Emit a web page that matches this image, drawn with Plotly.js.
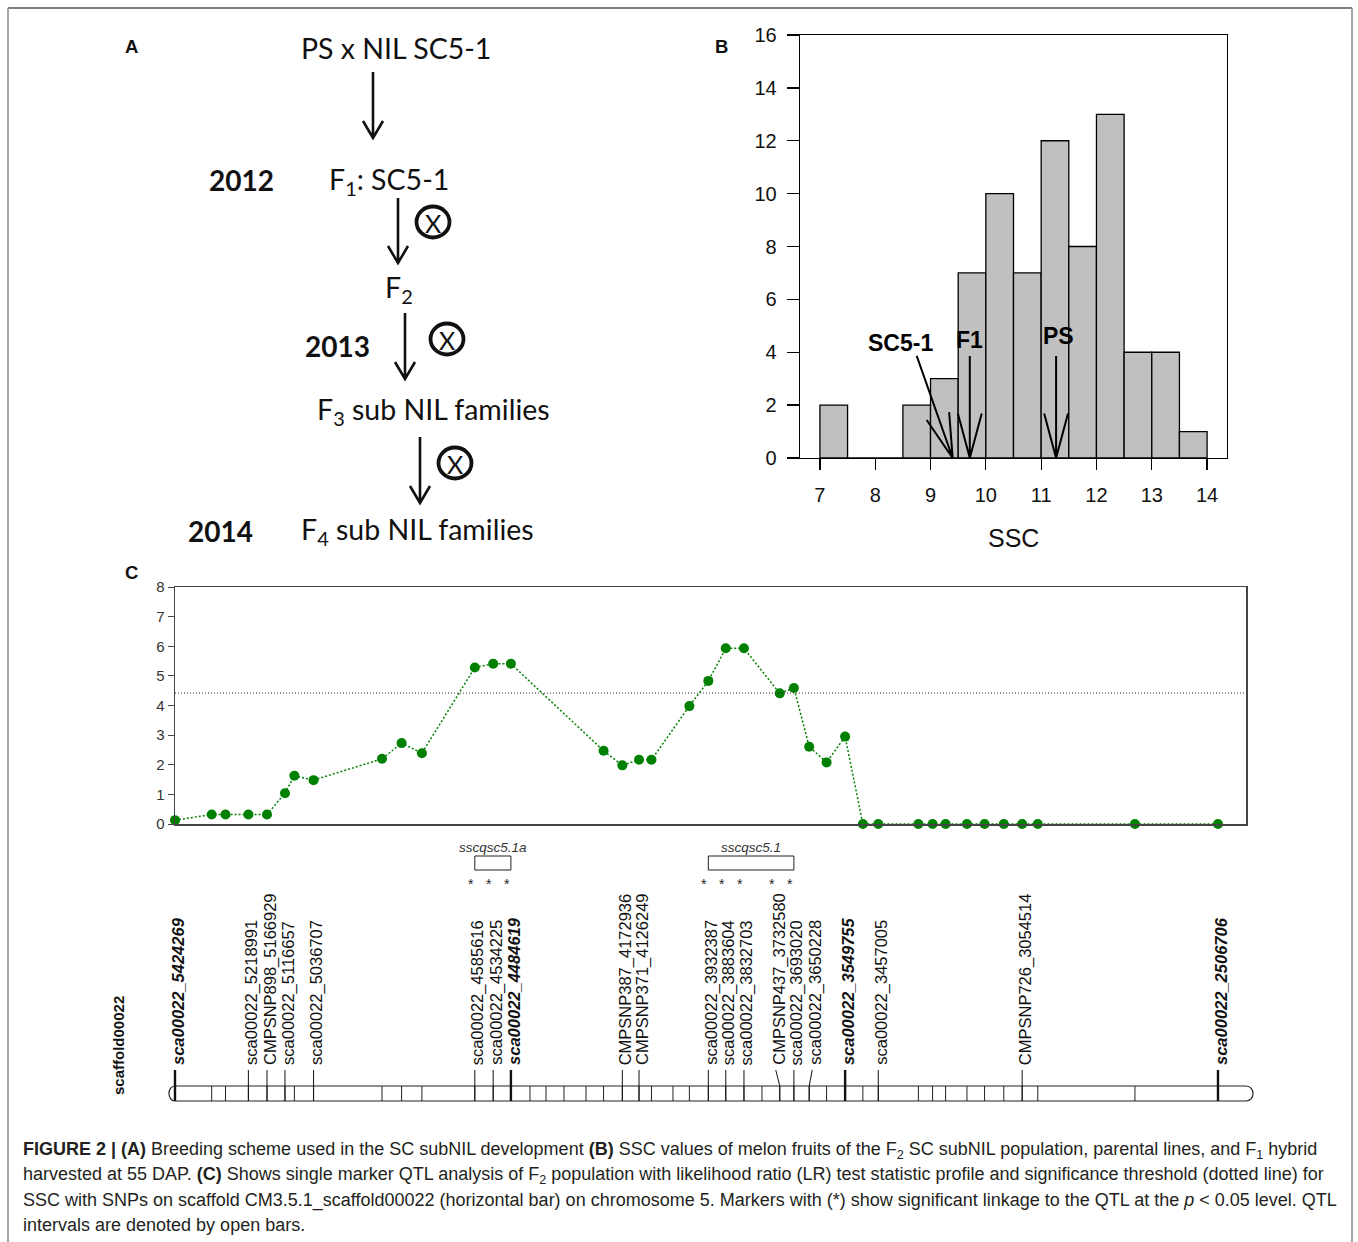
<!DOCTYPE html>
<html><head><meta charset="utf-8">
<script src="https://cdn.plot.ly/plotly-3.0.1.min.js"></script>
<style>html,body{margin:0;padding:0;background:#fff;} #chart{width:1358px;height:1242px;}</style>
</head><body><div id="chart"></div>
<script>
// ================= DATA =================
// Panel A : breeding scheme
const schemeSteps = ['PS x NIL SC5-1', 'F<sub>1</sub>: SC5-1', 'F<sub>2</sub>', 'F<sub>3</sub> sub NIL families', 'F<sub>4</sub> sub NIL families'];
const schemeYears = ['2012', '2013', '2014'];

// Panel B : SSC histogram of the F2 population
const sscBinEdges = [7, 7.5, 8, 8.5, 9, 9.5, 10, 10.5, 11, 11.5, 12, 12.5, 13, 13.5, 14];
const sscCounts   = [2, 0, 0, 2, 3, 7, 10, 7, 12, 8, 13, 4, 4, 1];
const parentNames = ['SC5-1', 'F1', 'PS'];
const parentSSC   = [9.40, 9.71, 11.27];
const sscXTicks = [7, 8, 9, 10, 11, 12, 13, 14];
const sscYTicks = [0, 2, 4, 6, 8, 10, 12, 14, 16];

// Panel C : LR profile along scaffold00022 (physical position, bp)
const lrMarkerPos = [5424269, 5321600, 5283000, 5218991, 5166929, 5116657, 5090300, 5036707,
  4845200, 4790400, 4733600, 4585616, 4534225, 4484619, 4225400, 4172936, 4126249, 4091400,
  3985400, 3932387, 3883604, 3832703, 3732580, 3693020, 3650228, 3601600, 3549755, 3500100,
  3457005, 3344800, 3305100, 3268700, 3208900, 3159700, 3105900, 3054514, 3010800, 2739000, 2506706];
const lrValues = [0.13, 0.32, 0.32, 0.32, 0.32, 1.04, 1.63, 1.48,
  2.20, 2.73, 2.39, 5.28, 5.41, 5.41, 2.47, 1.98, 2.17, 2.17,
  3.98, 4.83, 5.93, 5.93, 4.41, 4.59, 2.61, 2.08, 2.95, 0,
  0, 0, 0, 0, 0, 0, 0, 0, 0, 0, 0];
const lrThreshold = 4.42;
const lrYTicks = [0, 1, 2, 3, 4, 5, 6, 7, 8];
const otherMarkerPos = [4431300, 4386500, 4336200, 4274600, 4031300, 3782300];
const labelledMarkers = ['sca00022_5424269', 'sca00022_5218991', 'CMPSNP898_5166929', 'sca00022_5116657',
  'sca00022_5036707', 'sca00022_4585616', 'sca00022_4534225', 'sca00022_4484619', 'CMPSNP387_4172936',
  'CMPSNP371_4126249', 'sca00022_3932387', 'sca00022_3883604', 'sca00022_3832703', 'CMPSNP437_3732580',
  'sca00022_3693020', 'sca00022_3650228', 'sca00022_3549755', 'sca00022_3457005', 'CMPSNP726_3054514',
  'sca00022_2506706'];
const anchorMarkers = ['sca00022_5424269', 'sca00022_4484619', 'sca00022_3549755', 'sca00022_2506706'];
const significantMarkers = ['sca00022_4585616', 'sca00022_4534225', 'sca00022_4484619', 'sca00022_3932387',
  'sca00022_3883604', 'sca00022_3832703', 'CMPSNP437_3732580', 'sca00022_3693020'];
const qtlNames = ['sscqsc5.1a', 'sscqsc5.1'];
const qtlStart = [4585616, 3932387];
const qtlEnd   = [4484619, 3693020];
const scaffoldName = 'scaffold00022';

// ================= LAYOUT HELPERS =================
const W = 1358, H = 1242;
const px = v => v / W;
const py = v => 1 - v / H;
const ARIAL = 'Liberation Sans, Arial, sans-serif';
const CALIBRI = 'Lato, Carlito, Calibri, sans-serif';
const markerPos = name => parseInt(name.split('_')[1], 10);

const shapes = [];
const annotations = [];

// figure frame
shapes.push({type: 'line', xref: 'paper', yref: 'paper', x0: px(8), x1: px(1352), y0: py(8), y1: py(8), line: {color: '#555', width: 1.5}});
shapes.push({type: 'line', xref: 'paper', yref: 'paper', x0: px(8), x1: px(8), y0: py(8), y1: py(1242), line: {color: '#888', width: 1.5}});
shapes.push({type: 'line', xref: 'paper', yref: 'paper', x0: px(1352), x1: px(1352), y0: py(8), y1: py(1242), line: {color: '#888', width: 1.5}});

// panel letters
[['A', 131, 47], ['B', 721, 47], ['C', 131, 572]].forEach(([t, x, y]) => annotations.push({
  text: '<b>' + t + '</b>', xref: 'paper', yref: 'paper', x: px(x), y: py(y), xanchor: 'center', yanchor: 'middle',
  showarrow: false, font: {family: ARIAL, size: 18.5, color: '#111'}}));

// ---------- Panel A ----------
const stepPos = [[299, 48], [327, 181], [383, 289], [315, 411], [299, 531]];
schemeSteps.forEach((t, i) => annotations.push({
  text: t, xref: 'paper', yref: 'paper', x: px(stepPos[i][0]), y: py(stepPos[i][1]), xanchor: 'left', yanchor: 'middle',
  showarrow: false, font: {family: CALIBRI, size: 28.5, color: '#111'}}));
const yearPos = [[207, 180], [303, 346], [186, 531]];
schemeYears.forEach((t, i) => annotations.push({
  text: '<b>' + t + '</b>', xref: 'paper', yref: 'paper', x: px(yearPos[i][0]), y: py(yearPos[i][1]), xanchor: 'left', yanchor: 'middle',
  showarrow: false, font: {family: CALIBRI, size: 28, color: '#111'}}));
const arrowsA = [[373, 72, 138], [398, 198, 263], [405, 313, 379], [420, 437, 503]];
arrowsA.forEach(([x, y0, y1]) => {
  shapes.push({type: 'path', xref: 'paper', yref: 'paper',
    path: `M ${px(x)} ${py(y0)} L ${px(x)} ${py(y1)} M ${px(x - 10)} ${py(y1 - 17)} L ${px(x)} ${py(y1)} L ${px(x + 10)} ${py(y1 - 17)}`,
    line: {color: '#111', width: 2.6}});
});
const selfPos = [[433, 222], [447, 339], [455, 463]];
selfPos.forEach(([x, y]) => {
  shapes.push({type: 'circle', xref: 'paper', yref: 'paper', x0: px(x - 16.5), x1: px(x + 16.5), y0: py(y + 15.5), y1: py(y - 15.5),
    line: {color: '#111', width: 3.8}});
  annotations.push({text: 'X', xref: 'paper', yref: 'paper', x: px(x), y: py(y + 1), xanchor: 'center', yanchor: 'middle',
    showarrow: false, font: {family: CALIBRI, size: 25, color: '#111'}});
});

// ---------- Panel B ----------
const B = {l: 800, r: 1227, t: 35, b: 458, xr: [6.64, 14.36], yr: [0, 16]};
const sxB = (B.r - B.l) / (B.xr[1] - B.xr[0]);
const syB = (B.b - B.t) / (B.yr[1] - B.yr[0]);
const binMids = sscCounts.map((_, i) => (sscBinEdges[i] + sscBinEdges[i + 1]) / 2);
const binWidths = sscCounts.map((_, i) => sscBinEdges[i + 1] - sscBinEdges[i]);

const tailB = [[8.75, 3.86], [9.71, 3.86], [11.27, 3.86]];
const labelB = [[8.45, 4.35], [9.71, 4.45], [11.31, 4.63]];
parentSSC.forEach((tipX, i) => {
  const [fx, fy] = tailB[i];
  const dx = (fx - tipX) * sxB, dy = (fy - 0) * syB;
  const L = Math.hypot(dx, dy), ux = dx / L, uy = dy / L;
  const len = 46, ang = 15 * Math.PI / 180;
  const wing = s => {
    const c = Math.cos(s * ang), sn = Math.sin(s * ang);
    const wx = ux * c - uy * sn, wy = ux * sn + uy * c;
    return [tipX + wx * len / sxB, 0 + wy * len / syB];
  };
  const w1 = wing(1), w2 = wing(-1);
  shapes.push({type: 'path', xref: 'x', yref: 'y',
    path: `M ${fx} ${fy} L ${tipX} 0 M ${w1[0]} ${w1[1]} L ${tipX} 0 L ${w2[0]} ${w2[1]}`,
    line: {color: '#000', width: 2}});
  annotations.push({text: '<b>' + parentNames[i] + '</b>', xref: 'x', yref: 'y', x: labelB[i][0], y: labelB[i][1],
    xanchor: 'center', yanchor: 'middle', showarrow: false, font: {family: ARIAL, size: 23, color: '#000'}});
});
annotations.push({text: 'SSC', xref: 'paper', yref: 'paper', x: px((B.l + B.r) / 2), y: py(538), xanchor: 'center', yanchor: 'middle',
  showarrow: false, font: {family: ARIAL, size: 25, color: '#111'}});

// ---------- Panel C ----------
const C = {l: 175, r: 1246, t: 587, b: 824};
const xRangeC = [5424269, 2428360];
const bpp = (xRangeC[0] - xRangeC[1]) / (C.r - C.l);     // bp per pixel
const mapL = 166, mapR = 1256;                              // chromosome-map axis domain (px)
const xRangeMap = [xRangeC[0] + (C.l - mapL) * bpp, xRangeC[1] - (mapR - C.r) * bpp];
const barTop = 1086, barBot = 1101;

shapes.push({type: 'line', xref: 'x2 domain', yref: 'y2', x0: 0, x1: 1, y0: lrThreshold, y1: lrThreshold,
  line: {color: '#333', width: 1, dash: '1px,2px'}});

const xs = xRangeC[0], xe = xRangeC[1];
shapes.push({type: 'path', xref: 'x3', yref: 'y3',
  path: `M ${xs} ${barTop} L ${xe} ${barTop} C ${xe - 9.3 * bpp} ${barTop} ${xe - 9.3 * bpp} ${barBot} ${xe} ${barBot} L ${xs} ${barBot} C ${xs + 8 * bpp} ${barBot} ${xs + 8 * bpp} ${barTop} ${xs} ${barTop} Z`,
  line: {color: '#222', width: 1.2}});
lrMarkerPos.concat(otherMarkerPos).forEach(p => shapes.push({type: 'line', xref: 'x3', yref: 'y3',
  x0: p, x1: p, y0: barTop, y1: barBot, line: {color: '#222', width: 1}}));

const labelShiftPx = {'CMPSNP437_3732580': -4, 'sca00022_3650228': 3};
labelledMarkers.forEach(name => {
  const p = markerPos(name);
  const isAnchor = anchorMarkers.includes(name);
  const sh = labelShiftPx[name] || 0;
  shapes.push({type: 'path', xref: 'x3', yref: 'y3',
    path: `M ${p - sh * bpp} 1070 L ${p} ${barTop} L ${p} ${barBot}`,
    line: {color: '#111', width: isAnchor ? 2.4 : 1}});
  annotations.push({text: isAnchor ? '<b><i>' + name + '</i></b>' : name, xref: 'x3', yref: 'y3', x: p, y: 1067,
    xanchor: 'center', yanchor: 'bottom', textangle: -90, xshift: sh + 3, showarrow: false,
    font: {family: ARIAL, size: 16.5, color: '#111'}});
  if (significantMarkers.includes(name)) {
    annotations.push({text: '*', xref: 'x3', yref: 'y3', x: p, y: 884, xanchor: 'center', yanchor: 'middle',
      xshift: sh - 4, showarrow: false, font: {family: ARIAL, size: 14, color: '#222'}});
  }
});
qtlNames.forEach((n, i) => {
  shapes.push({type: 'rect', xref: 'x3', yref: 'y3', x0: qtlStart[i], x1: qtlEnd[i], y0: 856, y1: 870,
    line: {color: '#222', width: 1}});
  annotations.push({text: '<i>' + n + '</i>', xref: 'x3', yref: 'y3', x: (qtlStart[i] + qtlEnd[i]) / 2, y: 847,
    xanchor: 'center', yanchor: 'middle', showarrow: false, font: {family: ARIAL, size: 13.5, color: '#333'}});
});
annotations.push({text: '<b>' + scaffoldName + '</b>', xref: 'paper', yref: 'paper', x: px(118), y: py(1046),
  xanchor: 'center', yanchor: 'middle', textangle: -90, showarrow: false, font: {family: ARIAL, size: 15, color: '#111'}});

// ---------- Caption ----------
const captionLines = [
  '<b>FIGURE 2 | (A)</b> Breeding scheme used in the SC subNIL development <b>(B)</b> SSC values of melon fruits of the F<sub>2</sub> SC subNIL population, parental lines, and F<sub>1</sub> hybrid',
  'harvested at 55 DAP. <b>(C)</b> Shows single marker QTL analysis of F<sub>2</sub> population with likelihood ratio (LR) test statistic profile and significance threshold (dotted line) for',
  'SSC with SNPs on scaffold CM3.5.1_scaffold00022 (horizontal bar) on chromosome 5. Markers with (*) show significant linkage to the QTL at the <i>p</i> &lt; 0.05 level. QTL',
  'intervals are denoted by open bars.'
];
captionLines.forEach((t, i) => annotations.push({text: t, xref: 'paper', yref: 'paper', x: px(21), y: py(1150 + 25 * i),
  xanchor: 'left', yanchor: 'middle', showarrow: false, font: {family: ARIAL, size: 18, color: '#231f20'}}));

// ================= TRACES =================
const traces = [
  {type: 'bar', x: binMids, y: sscCounts, width: binWidths, xaxis: 'x', yaxis: 'y', textposition: 'none',
   marker: {color: '#c0c0c0', line: {color: '#000', width: 1.3}}, hoverinfo: 'skip'},
  {type: 'scatter', mode: 'lines+markers', x: lrMarkerPos, y: lrValues, xaxis: 'x2', yaxis: 'y2', cliponaxis: false,
   line: {color: '#008000', width: 1.5, dash: '2px,2px'}, marker: {color: '#008000', size: 10}, hoverinfo: 'skip'}
];

const layout = {
  width: W, height: H, margin: {l: 0, r: 0, t: 0, b: 0}, showlegend: false,
  paper_bgcolor: '#fff', plot_bgcolor: 'rgba(0,0,0,0)',
  xaxis: {domain: [px(B.l), px(B.r)], range: B.xr, anchor: 'y', tickvals: sscXTicks, ticks: 'outside', ticklen: 11,
    tickwidth: 1.3, tickcolor: '#000', showline: true, linecolor: '#000', linewidth: 1.3, mirror: true,
    showgrid: false, zeroline: false, ticklabelstandoff: 8, tickfont: {family: ARIAL, size: 20, color: '#111'}},
  yaxis: {domain: [py(B.b), py(B.t)], range: B.yr, anchor: 'x', tickvals: sscYTicks, ticks: 'outside', ticklen: 12,
    tickwidth: 1.3, tickcolor: '#000', showline: true, linecolor: '#000', linewidth: 1.3, mirror: true,
    showgrid: false, zeroline: false, ticklabelstandoff: 6, tickfont: {family: ARIAL, size: 20, color: '#111'}},
  xaxis2: {domain: [px(C.l), px(C.r)], range: xRangeC, anchor: 'y2', showticklabels: false, ticks: '',
    showline: true, linecolor: '#444', linewidth: 1.5, mirror: true, showgrid: false, zeroline: false},
  yaxis2: {domain: [py(C.b), py(C.t)], range: [0, 8], anchor: 'x2', tickvals: lrYTicks, ticks: 'outside', ticklen: 6,
    tickwidth: 1, tickcolor: '#444', showline: true, linecolor: '#444', linewidth: 1.5, mirror: true,
    showgrid: false, zeroline: false, tickfont: {family: ARIAL, size: 15, color: '#333'}},
  xaxis3: {domain: [px(mapL), px(mapR)], range: xRangeMap, anchor: 'y3', visible: false, showgrid: false, zeroline: false},
  yaxis3: {domain: [py(1112), py(835)], range: [1112, 835], anchor: 'x3', visible: false, showgrid: false, zeroline: false},
  shapes: shapes,
  annotations: annotations
};

Plotly.newPlot('chart', traces, layout, {displayModeBar: false, staticPlot: true});
</script>
</body></html>
